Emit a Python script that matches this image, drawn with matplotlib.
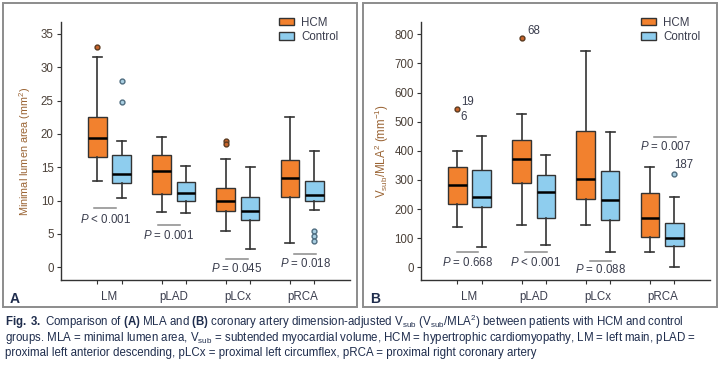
import matplotlib
matplotlib.use('Agg')
import matplotlib.pyplot as plt
from matplotlib.patches import Patch, Rectangle

plt.rcParams['font.family'] = ['Liberation Sans', 'DejaVu Sans']
plt.rcParams['mathtext.fontset'] = 'custom'
plt.rcParams['mathtext.rm'] = 'Liberation Sans'
plt.rcParams['mathtext.it'] = 'Liberation Sans:italic'
plt.rcParams['mathtext.bf'] = 'Liberation Sans:bold'

# ---- data ----
categories = ['LM', 'pLAD', 'pLCx', 'pRCA']
series = ['HCM', 'Control']

# panel A: minimal lumen area (mm^2)
mla_hcm_low = [12.9, 8.3, 5.4, 3.7]
mla_hcm_q1 = [16.6, 11.0, 8.4, 10.6]
mla_hcm_med = [19.4, 14.4, 9.9, 13.4]
mla_hcm_q3 = [22.6, 16.8, 11.9, 16.1]
mla_hcm_high = [31.6, 19.6, 16.2, 22.6]
mla_hcm_out = [[33.1], [], [19.0, 18.5], []]

mla_ctl_low = [10.4, 8.1, 2.7, 8.6]
mla_ctl_q1 = [12.7, 10.0, 7.1, 10.0]
mla_ctl_med = [14.0, 11.2, 8.5, 10.9]
mla_ctl_q3 = [16.8, 12.8, 10.6, 13.0]
mla_ctl_high = [18.9, 15.2, 15.1, 17.5]
mla_ctl_out = [[27.9, 24.8], [], [], [5.4, 4.7, 3.9]]

mla_p = ['$P$ < 0.001', '$P$ = 0.001', '$P$ = 0.045', '$P$ = 0.018']
mla_p_line = [8.95, 6.35, 1.25, 1.95]
mla_p_text = [7.2, 4.8, -0.2, 0.6]
mla_p_x = [-0.07, -0.08, -0.02, 0.05]

# panel B: Vsub / MLA^2 (mm^-1)
v_hcm_low = [140, 146, 144, 51]
v_hcm_q1 = [219, 290, 233, 103]
v_hcm_med = [282, 371, 304, 168]
v_hcm_q3 = [345, 436, 468, 254]
v_hcm_high = [399, 527, 744, 345]
v_hcm_out = [[545], [787], [], []]

v_ctl_low = [71, 76, 52, 0]
v_ctl_q1 = [207, 168, 163, 74]
v_ctl_med = [241, 260, 232, 100]
v_ctl_q3 = [334, 316, 331, 153]
v_ctl_high = [450, 386, 463, 242]
v_ctl_out = [[], [], [], [322]]

v_p = ['$P$ = 0.668', '$P$ < 0.001', '$P$ = 0.088', '$P$ = 0.007']
v_p_line = [53, 51, 23, 448]
v_p_text = [17, 17, -6, 413]
v_p_x = [-0.03, 0.03, 0.04, 0.05]

# labelled outliers in panel B
id_text = ['19', '6', '68', '187']
id_group = [0, 0, 1, 3]
id_series = [0, 0, 0, 1]
id_value = [545, 545, 787, 322]
id_offset = [(3, 5), (2, -6), (4, 5), (0, 6)]

ORANGE = '#F2812E'
BLUE = '#8ECDEE'
EDGE = '#333333'
TICK_C = '#4a4038'
LABEL_C = '#9a6434'
TEXT_C = '#3a3d4d'
CAP_C = '#1f2d4d'
OFF = 0.19
FS = 8.3


def stats(low, q1, med, q3, high, out):
    return [dict(whislo=a, q1=b, med=c, q3=d, whishi=e, fliers=f)
            for a, b, c, d, e, f in zip(low, q1, med, q3, high, out)]


def draw_panel(ax, hcm, ctl, ylim, yticks, p_txt, p_line, p_text, p_x):
    pos = [i + 1 for i in range(len(categories))]
    for st, shift, col, fcol, ecol in [(hcm, -OFF, ORANGE, '#c8642a', '#5a3a20'),
                                      (ctl, OFF, BLUE, '#a9cfe2', '#4f6d80')]:
        ax.bxp(st, positions=[p + shift for p in pos], widths=0.29,
               patch_artist=True, manage_ticks=False, capwidths=0.14,
               boxprops=dict(facecolor=col, edgecolor=EDGE, linewidth=1.0),
               medianprops=dict(color='black', linewidth=1.8),
               whiskerprops=dict(color=EDGE, linewidth=1.2),
               capprops=dict(color=EDGE, linewidth=1.2),
               flierprops=dict(marker='o', markersize=3.5, markerfacecolor=fcol,
                               markeredgecolor=ecol, markeredgewidth=1.0))
    for i in range(len(categories)):
        cx = pos[i] + p_x[i]
        ax.plot([cx - 0.17, cx + 0.17], [p_line[i], p_line[i]], color='#8a8a8a', lw=1.1)
        ax.text(cx, p_text[i], p_txt[i], ha='center', va='center', fontsize=FS, color=TEXT_C)

    ax.set_xlim(0.24, 4.745)
    ax.set_ylim(*ylim)
    ax.set_yticks(yticks)
    ax.set_xticks([p + s for p in pos for s in (-OFF, OFF)])
    ax.set_xticklabels([])
    ax.set_xticks(pos, minor=True)
    ax.set_xticklabels(categories, minor=True)
    ax.tick_params(axis='x', which='major', length=3, color=EDGE)
    ax.tick_params(axis='x', which='minor', length=0, pad=8, labelsize=FS, labelcolor=TEXT_C)
    ax.tick_params(axis='y', length=3, pad=2, labelsize=FS, labelcolor=TICK_C, color=EDGE)
    for s in ('top', 'right'):
        ax.spines[s].set_visible(False)
    for s in ('left', 'bottom'):
        ax.spines[s].set_color(EDGE)
        ax.spines[s].set_linewidth(1.0)


fig = plt.figure(figsize=(7.21, 3.65), dpi=100)
W, H = 721.0, 365.0

axA = fig.add_axes([60.7 / W, 1 - 280 / H, 289.3 / W, 258 / H])
axB = fig.add_axes([420.7 / W, 1 - 280 / H, 289.3 / W, 258 / H])

draw_panel(axA,
           stats(mla_hcm_low, mla_hcm_q1, mla_hcm_med, mla_hcm_q3, mla_hcm_high, mla_hcm_out),
           stats(mla_ctl_low, mla_ctl_q1, mla_ctl_med, mla_ctl_q3, mla_ctl_high, mla_ctl_out),
           (-1.9, 36.8), [0, 5, 10, 15, 20, 25, 30, 35],
           mla_p, mla_p_line, mla_p_text, mla_p_x)
draw_panel(axB,
           stats(v_hcm_low, v_hcm_q1, v_hcm_med, v_hcm_q3, v_hcm_high, v_hcm_out),
           stats(v_ctl_low, v_ctl_q1, v_ctl_med, v_ctl_q3, v_ctl_high, v_ctl_out),
           (-43.5, 842), [0, 100, 200, 300, 400, 500, 600, 700, 800],
           v_p, v_p_line, v_p_text, v_p_x)

for t, g, s, v, off in zip(id_text, id_group, id_series, id_value, id_offset):
    x = g + 1 + (OFF if s else -OFF)
    axB.annotate(t, (x, v), xytext=off, textcoords='offset points',
                 ha='left', va='center', fontsize=FS, color=TEXT_C)

# legends
handles = [Patch(facecolor=ORANGE, edgecolor=EDGE, lw=1.0),
           Patch(facecolor=BLUE, edgecolor=EDGE, lw=1.0)]
for ax, right in [(axA, 344), (axB, 706)]:
    ax.legend(handles, series, loc='upper right', frameon=False, fontsize=FS,
              bbox_to_anchor=(right / W, 1 - 11 / H), bbox_transform=fig.transFigure,
              borderpad=0, handlelength=1.35, handleheight=0.6, labelspacing=0.2,
              handletextpad=0.6, labelcolor=TEXT_C)

# y labels
fig.text(25 / W, 1 - 151 / H, 'Minimal lumen area (mm$^2$)', rotation=90,
         ha='center', va='center', fontsize=7.8, color=LABEL_C)
fig.text(382 / W, 1 - 151 / H, r'V$_{\mathrm{sub}}$/MLA$^2$ (mm$^{-1}$)', rotation=90,
         ha='center', va='center', fontsize=FS, color=LABEL_C)

# panel frames and letters
for x0 in (3, 363):
    fig.add_artist(Rectangle((x0 / W, 1 - 307 / H), 354 / W, 304 / H,
                             transform=fig.transFigure, fill=False,
                             edgecolor='#8c8c8c', lw=1.4))
fig.text(10 / W, 1 - 299 / H, 'A', fontsize=10, fontweight='bold', color=CAP_C, va='center')
fig.text(370 / W, 1 - 299 / H, 'B', fontsize=10, fontweight='bold', color=CAP_C, va='center')

# caption
caption = [
    r'$\mathbf{Fig.\ 3.}$ Comparison of $\mathbf{(A)}$ MLA and $\mathbf{(B)}$ coronary artery '
    r'dimension-adjusted V$_{\mathrm{sub}}$ (V$_{\mathrm{sub}}$/MLA$^2$) between patients with HCM and control',
    r'groups. MLA = minimal lumen area, V$_{\mathrm{sub}}$ = subtended myocardial volume, '
    r'HCM = hypertrophic cardiomyopathy, LM = left main, pLAD =',
    'proximal left anterior descending, pLCx = proximal left circumflex, pRCA = proximal right coronary artery',
]
caption_y = [321.5, 338, 353]
for line, y in zip(caption, caption_y):
    fig.text(5 / W, 1 - y / H, line, fontsize=8.3, color=CAP_C, va='center')

fig.savefig('out.png', dpi=100)
